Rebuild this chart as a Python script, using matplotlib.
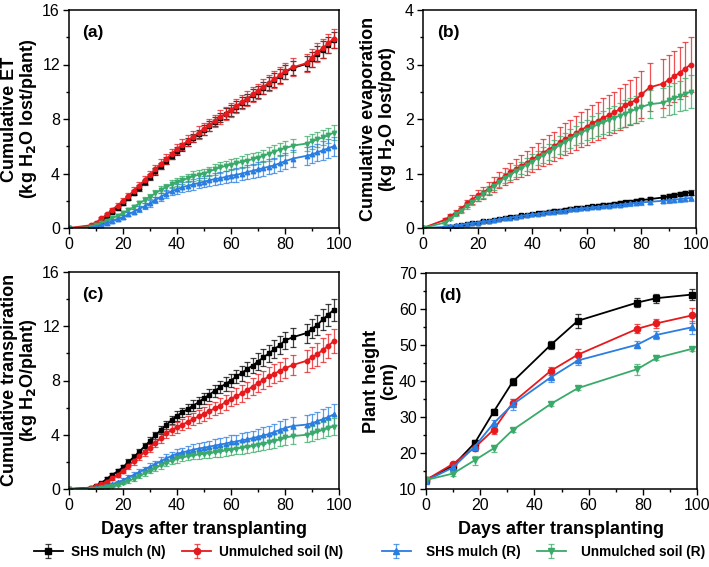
import matplotlib
matplotlib.use("Agg")
import matplotlib.pyplot as plt
from matplotlib.ticker import MultipleLocator, AutoMinorLocator

plt.rcParams['font.family'] = ['Liberation Sans', 'DejaVu Sans']

# sampling days for panels (a)-(c)
days = [0, 8, 10, 12, 14, 16, 18, 20, 22, 24, 26, 28, 30, 32, 34, 36, 38, 40, 42, 44,
        46, 48, 50, 52, 54, 56, 58, 60, 62, 64, 66, 68, 70, 72, 74, 76, 78, 80, 83, 88,
        90, 92, 94, 96, 98]

# (a) cumulative ET
et_shs_n = [0, 0.05, 0.2, 0.5, 0.85, 1.2, 1.5, 1.85, 2.2, 2.6, 2.95, 3.35, 3.75, 4.15, 4.55,
            4.95, 5.3, 5.65, 5.95, 6.3, 6.6, 6.9, 7.2, 7.5, 7.8, 8.1, 8.4, 8.65, 8.9, 9.2,
            9.45, 9.75, 10.0, 10.3, 10.6, 10.85, 11.15, 11.45, 11.75, 12.05, 12.4, 12.8,
            13.1, 13.45, 13.8]
et_shs_n_err = [0, 0.05, 0.05, 0.1, 0.1, 0.1, 0.15, 0.15, 0.15, 0.2, 0.2, 0.2, 0.2, 0.25,
                0.25, 0.25, 0.25, 0.3, 0.3, 0.3, 0.3, 0.3, 0.35, 0.35, 0.35, 0.35, 0.4, 0.4,
                0.4, 0.4, 0.4, 0.45, 0.45, 0.45, 0.45, 0.5, 0.5, 0.5, 0.5, 0.55, 0.55, 0.55,
                0.6, 0.6, 0.6]
et_uns_n = [0, 0.2, 0.4, 0.7, 1.0, 1.35, 1.65, 2.0, 2.35, 2.75, 3.1, 3.5, 3.9, 4.3, 4.7,
            5.05, 5.45, 5.8, 6.1, 6.4, 6.7, 7.0, 7.25, 7.55, 7.85, 8.15, 8.4, 8.65, 8.95,
            9.25, 9.5, 9.8, 10.05, 10.35, 10.65, 10.9, 11.2, 11.5, 11.8, 12.1, 12.5, 12.9,
            13.2, 13.55, 13.9]
et_uns_n_err = [0, 0.05, 0.05, 0.1, 0.1, 0.15, 0.15, 0.2, 0.2, 0.25, 0.25, 0.3, 0.3, 0.3,
                0.35, 0.35, 0.35, 0.4, 0.4, 0.4, 0.4, 0.45, 0.45, 0.45, 0.45, 0.5, 0.5, 0.5,
                0.5, 0.5, 0.55, 0.55, 0.55, 0.55, 0.6, 0.6, 0.6, 0.6, 0.65, 0.65, 0.65, 0.7,
                0.7, 0.7, 0.7]
et_shs_r = [0, 0.0, 0.1, 0.2, 0.35, 0.5, 0.65, 0.8, 1.0, 1.2, 1.4, 1.6, 1.8, 2.05, 2.3, 2.5,
            2.7, 2.85, 3.0, 3.1, 3.2, 3.3, 3.4, 3.5, 3.6, 3.65, 3.75, 3.85, 3.9, 4.0, 4.1,
            4.2, 4.3, 4.4, 4.5, 4.6, 4.75, 4.9, 5.1, 5.3, 5.4, 5.55, 5.7, 5.85, 6.0]
et_shs_r_err = [0, 0.02, 0.05, 0.05, 0.1, 0.1, 0.1, 0.15, 0.15, 0.2, 0.2, 0.2, 0.25, 0.25,
                0.3, 0.3, 0.3, 0.35, 0.35, 0.35, 0.4, 0.4, 0.4, 0.4, 0.45, 0.45, 0.45, 0.45,
                0.5, 0.5, 0.5, 0.5, 0.55, 0.55, 0.55, 0.55, 0.6, 0.6, 0.6, 0.65, 0.65, 0.65,
                0.7, 0.7, 0.7]
et_uns_r = [0, 0.05, 0.2, 0.35, 0.55, 0.75, 0.9, 1.1, 1.3, 1.55, 1.8, 2.05, 2.3, 2.55, 2.8,
            3.0, 3.2, 3.35, 3.5, 3.65, 3.8, 3.9, 4.0, 4.15, 4.3, 4.45, 4.55, 4.65, 4.75,
            4.85, 4.95, 5.05, 5.15, 5.3, 5.45, 5.6, 5.75, 5.85, 6.05, 6.2, 6.35, 6.5, 6.65,
            6.8, 7.0]
et_uns_r_err = [0, 0.02, 0.05, 0.05, 0.1, 0.1, 0.1, 0.15, 0.15, 0.15, 0.2, 0.2, 0.2, 0.25,
                0.25, 0.25, 0.3, 0.3, 0.3, 0.3, 0.35, 0.35, 0.35, 0.35, 0.4, 0.4, 0.4, 0.4,
                0.4, 0.45, 0.45, 0.45, 0.45, 0.45, 0.5, 0.5, 0.5, 0.5, 0.5, 0.55, 0.55, 0.55,
                0.55, 0.55, 0.55]

# (b) cumulative evaporation
ev_shs_n = [0, 0.0, 0.02, 0.03, 0.05, 0.07, 0.09, 0.1, 0.12, 0.13, 0.15, 0.17, 0.18, 0.2,
            0.21, 0.23, 0.24, 0.25, 0.27, 0.28, 0.3, 0.31, 0.32, 0.33, 0.35, 0.36, 0.37,
            0.38, 0.4, 0.41, 0.42, 0.43, 0.44, 0.46, 0.47, 0.48, 0.5, 0.51, 0.53, 0.56, 0.58,
            0.6, 0.62, 0.64, 0.65]
ev_shs_n_err = [0, 0.0, 0.01, 0.01, 0.01, 0.01, 0.01, 0.01, 0.02, 0.02, 0.02, 0.02, 0.02,
                0.02, 0.02, 0.02, 0.02, 0.02, 0.03, 0.03, 0.03, 0.03, 0.03, 0.03, 0.03, 0.03,
                0.03, 0.03, 0.03, 0.03, 0.03, 0.03, 0.03, 0.03, 0.03, 0.03, 0.04, 0.04, 0.04,
                0.04, 0.04, 0.04, 0.04, 0.04, 0.04]
ev_uns_n = [0, 0.15, 0.22, 0.28, 0.35, 0.45, 0.52, 0.6, 0.65, 0.72, 0.8, 0.88, 0.95, 1.02,
            1.08, 1.14, 1.2, 1.26, 1.32, 1.38, 1.44, 1.5, 1.57, 1.63, 1.68, 1.74, 1.8, 1.86,
            1.92, 1.97, 2.02, 2.07, 2.12, 2.18, 2.25, 2.3, 2.35, 2.45, 2.58, 2.65, 2.72,
            2.78, 2.85, 2.92, 3.0]
ev_uns_n_err = [0, 0.03, 0.04, 0.05, 0.06, 0.07, 0.08, 0.1, 0.11, 0.12, 0.14, 0.15, 0.16,
                0.18, 0.19, 0.2, 0.22, 0.23, 0.24, 0.25, 0.26, 0.27, 0.28, 0.29, 0.3, 0.31,
                0.32, 0.33, 0.34, 0.35, 0.36, 0.37, 0.38, 0.39, 0.4, 0.41, 0.42, 0.43, 0.44,
                0.45, 0.46, 0.47, 0.48, 0.49, 0.5]
ev_shs_r = [0, 0.02, 0.04, 0.05, 0.06, 0.08, 0.09, 0.1, 0.12, 0.13, 0.15, 0.16, 0.18, 0.19,
            0.21, 0.22, 0.24, 0.25, 0.26, 0.28, 0.29, 0.3, 0.31, 0.32, 0.34, 0.35, 0.36,
            0.37, 0.38, 0.39, 0.4, 0.41, 0.42, 0.43, 0.44, 0.45, 0.46, 0.47, 0.48, 0.5, 0.51,
            0.52, 0.53, 0.54, 0.55]
ev_shs_r_err = [0, 0.01, 0.01, 0.01, 0.01, 0.01, 0.01, 0.02, 0.02, 0.02, 0.02, 0.02, 0.02,
                0.02, 0.02, 0.02, 0.02, 0.03, 0.03, 0.03, 0.03, 0.03, 0.03, 0.03, 0.03, 0.03,
                0.03, 0.03, 0.03, 0.03, 0.03, 0.04, 0.04, 0.04, 0.04, 0.04, 0.04, 0.04, 0.04,
                0.05, 0.05, 0.05, 0.05, 0.05, 0.05]
ev_uns_r = [0, 0.1, 0.17, 0.25, 0.32, 0.4, 0.48, 0.55, 0.62, 0.7, 0.77, 0.85, 0.92, 0.98,
            1.04, 1.1, 1.16, 1.22, 1.28, 1.34, 1.4, 1.46, 1.52, 1.58, 1.64, 1.7, 1.75, 1.8,
            1.85, 1.9, 1.94, 1.98, 2.02, 2.06, 2.1, 2.14, 2.18, 2.22, 2.27, 2.3, 2.34, 2.38,
            2.42, 2.46, 2.5]
ev_uns_r_err = [0, 0.02, 0.03, 0.03, 0.04, 0.05, 0.05, 0.06, 0.07, 0.07, 0.08, 0.09, 0.09,
                0.1, 0.11, 0.11, 0.12, 0.13, 0.13, 0.14, 0.15, 0.15, 0.16, 0.17, 0.17, 0.18,
                0.19, 0.19, 0.2, 0.21, 0.21, 0.22, 0.22, 0.23, 0.24, 0.24, 0.25, 0.25, 0.26,
                0.27, 0.27, 0.28, 0.28, 0.29, 0.3]

# (c) cumulative transpiration
tr_shs_n = [0, 0.1, 0.25, 0.45, 0.75, 1.05, 1.3, 1.6, 2.0, 2.35, 2.75, 3.15, 3.55, 3.95,
            4.35, 4.7, 5.1, 5.4, 5.65, 5.9, 6.15, 6.4, 6.7, 6.95, 7.25, 7.5, 7.75, 8.0, 8.3,
            8.55, 8.85, 9.1, 9.4, 9.7, 10.0, 10.3, 10.6, 10.95, 11.2, 11.5, 11.8, 12.1, 12.5,
            12.85, 13.2]
tr_shs_n_err = [0, 0.05, 0.05, 0.1, 0.1, 0.1, 0.15, 0.15, 0.2, 0.2, 0.2, 0.25, 0.25, 0.25,
                0.3, 0.3, 0.3, 0.35, 0.35, 0.35, 0.4, 0.4, 0.4, 0.45, 0.45, 0.45, 0.5, 0.5,
                0.5, 0.55, 0.55, 0.55, 0.6, 0.6, 0.6, 0.65, 0.65, 0.65, 0.7, 0.7, 0.7, 0.75,
                0.75, 0.8, 0.8]
tr_uns_n = [0, 0.1, 0.2, 0.35, 0.55, 0.8, 1.05, 1.35, 1.7, 2.05, 2.4, 2.75, 3.05, 3.4, 3.75,
            4.1, 4.35, 4.55, 4.75, 4.95, 5.15, 5.35, 5.55, 5.75, 5.95, 6.15, 6.4, 6.65, 6.85,
            7.05, 7.3, 7.55, 7.8, 8.05, 8.3, 8.5, 8.7, 8.9, 9.15, 9.45, 9.7, 9.95, 10.25,
            10.55, 10.9]
tr_uns_n_err = [0, 0.05, 0.05, 0.1, 0.1, 0.15, 0.15, 0.2, 0.2, 0.25, 0.25, 0.3, 0.3, 0.3,
                0.35, 0.35, 0.4, 0.4, 0.4, 0.45, 0.45, 0.45, 0.5, 0.5, 0.5, 0.55, 0.55, 0.55,
                0.6, 0.6, 0.6, 0.65, 0.65, 0.65, 0.7, 0.7, 0.7, 0.75, 0.75, 0.8, 0.8, 0.85,
                0.85, 0.9, 0.9]
tr_shs_r = [0, 0.02, 0.08, 0.15, 0.25, 0.35, 0.5, 0.65, 0.85, 1.05, 1.25, 1.45, 1.65, 1.85,
            2.05, 2.25, 2.45, 2.6, 2.7, 2.8, 2.9, 2.98, 3.05, 3.12, 3.2, 3.28, 3.35, 3.45,
            3.5, 3.6, 3.65, 3.75, 3.85, 3.95, 4.05, 4.2, 4.35, 4.5, 4.65, 4.75, 4.85, 5.0,
            5.15, 5.3, 5.5]
tr_shs_r_err = [0, 0.02, 0.05, 0.05, 0.1, 0.1, 0.1, 0.15, 0.15, 0.2, 0.2, 0.2, 0.25, 0.25,
                0.3, 0.3, 0.3, 0.35, 0.35, 0.35, 0.4, 0.4, 0.4, 0.45, 0.45, 0.45, 0.5, 0.5,
                0.5, 0.5, 0.55, 0.55, 0.55, 0.6, 0.6, 0.6, 0.65, 0.65, 0.65, 0.7, 0.7, 0.7,
                0.75, 0.75, 0.8]
tr_uns_r = [0, 0.0, 0.03, 0.08, 0.15, 0.22, 0.32, 0.45, 0.6, 0.75, 0.95, 1.15, 1.35, 1.55,
            1.75, 1.95, 2.1, 2.25, 2.35, 2.42, 2.5, 2.55, 2.6, 2.65, 2.72, 2.78, 2.85, 2.9,
            2.97, 3.05, 3.12, 3.2, 3.28, 3.35, 3.45, 3.55, 3.65, 3.8, 3.9, 4.0, 4.1, 4.25,
            4.35, 4.5, 4.6]
tr_uns_r_err = [0, 0.02, 0.03, 0.05, 0.05, 0.1, 0.1, 0.1, 0.15, 0.15, 0.15, 0.2, 0.2, 0.2,
                0.25, 0.25, 0.25, 0.3, 0.3, 0.3, 0.3, 0.35, 0.35, 0.35, 0.35, 0.4, 0.4, 0.4,
                0.4, 0.45, 0.45, 0.45, 0.45, 0.5, 0.5, 0.5, 0.5, 0.55, 0.55, 0.55, 0.55, 0.6,
                0.6, 0.6, 0.6]

# (d) plant height
h_days = [0, 10, 18, 25, 32, 46, 56, 78, 85, 98]
h_shs_n = [12.5, 16.5, 22.8, 31.5, 39.8, 50.0, 56.7, 61.8, 63.0, 64.0]
h_shs_n_err = [0.4, 0.6, 0.8, 0.8, 0.9, 1.2, 2.0, 1.3, 1.3, 1.5]
h_uns_n = [12.5, 17.0, 21.5, 26.5, 34.0, 42.8, 47.3, 54.5, 56.0, 58.2]
h_uns_n_err = [0.4, 0.6, 1.0, 1.2, 1.0, 1.2, 1.5, 1.2, 1.3, 2.0]
h_shs_r = [12.3, 16.0, 21.8, 28.3, 33.5, 41.0, 45.7, 50.1, 52.8, 54.9]
h_shs_r_err = [0.4, 0.6, 0.8, 1.0, 1.5, 1.2, 1.2, 0.9, 1.2, 1.8]
h_uns_r = [12.5, 14.3, 18.0, 21.3, 26.4, 33.6, 38.0, 43.3, 46.4, 48.9]
h_uns_r_err = [0.4, 0.7, 1.3, 1.0, 0.5, 0.5, 0.6, 1.5, 0.7, 0.6]

labels = ['SHS mulch (N)', 'Unmulched soil (N)', 'SHS mulch (R)', 'Unmulched soil (R)']
colors = ['black', '#e8191c', '#2a7de1', '#3aaa6a']
markers = ['s', 'o', '^', 'v']

fig = plt.figure(figsize=(7.09, 5.67), dpi=100)
W, H = 709, 567


def add_ax(l, r, t, b):
    return fig.add_axes([l / W, 1 - b / H, (r - l) / W, (b - t) / H])


ax_a = add_ax(69, 339, 10, 228)
ax_b = add_ax(423, 696, 10, 228)
ax_c = add_ax(69, 339, 272, 489)
ax_d = add_ax(426, 697, 273, 489)

# axis, x, series, errors, y-limits, y-step, y-label, tag, label centre (px)
panels = [
    (ax_a, days, [et_shs_n, et_uns_n, et_shs_r, et_uns_r],
     [et_shs_n_err, et_uns_n_err, et_shs_r_err, et_uns_r_err],
     (0, 16), 4, 'Cumulative ET\n(kg H$_\\mathbf{2}$O lost/plant)', '(a)', (20, 119)),
    (ax_b, days, [ev_shs_n, ev_uns_n, ev_shs_r, ev_uns_r],
     [ev_shs_n_err, ev_uns_n_err, ev_shs_r_err, ev_uns_r_err],
     (0, 4), 1, 'Cumulative evaporation\n(kg H$_\\mathbf{2}$O lost/pot)', '(b)', (379, 119)),
    (ax_c, days, [tr_shs_n, tr_uns_n, tr_shs_r, tr_uns_r],
     [tr_shs_n_err, tr_uns_n_err, tr_shs_r_err, tr_uns_r_err],
     (0, 16), 4, 'Cumulative transpiration\n(kg H$_\\mathbf{2}$O/plant)', '(c)', (20, 380)),
    (ax_d, h_days, [h_shs_n, h_uns_n, h_shs_r, h_uns_r],
     [h_shs_n_err, h_uns_n_err, h_shs_r_err, h_uns_r_err],
     (10, 70), 10, 'Plant height\n(cm)', '(d)', (380, 381)),
]

handles = []
for ax, x, ys, es, ylim, ystep, ylabel, tag, lpos in panels:
    if ax is ax_a:
        order = [0, 1, 3, 2]
    elif ax is ax_b:
        order = [0, 2, 1, 3]
    else:
        order = [0, 1, 2, 3]
    ms = 4.5 if ax is ax_d else 3.2
    hs = {}
    for i in order:
        h = ax.errorbar(x, ys[i], yerr=es[i], color=colors[i], marker=markers[i],
                        ms=ms, lw=1.3, elinewidth=0.9, capsize=2.2, capthick=0.9,
                        ecolor=colors[i], label=labels[i])
        for bar in h[2]:
            bar.set_alpha(0.75)
        for cap in h[1]:
            cap.set_alpha(0.75)
        hs[i] = h
    if ax is ax_d:
        handles = [hs[i] for i in range(4)]
    ax.set_xlim(0, 100)
    ax.set_ylim(*ylim)
    ax.xaxis.set_major_locator(MultipleLocator(20))
    ax.xaxis.set_minor_locator(AutoMinorLocator(2))
    ax.yaxis.set_major_locator(MultipleLocator(ystep))
    ax.yaxis.set_minor_locator(AutoMinorLocator(2))
    ax.tick_params(which='major', direction='out', length=4, width=1, labelsize=11.5,
                   pad=2.5)
    ax.tick_params(which='minor', direction='out', length=2.5, width=1)
    for s in ax.spines.values():
        s.set_linewidth(1.1)
    fig.text(lpos[0] / W, 1 - lpos[1] / H, ylabel, rotation=90, ha='center', va='center',
             multialignment='center', fontsize=13, fontweight='bold', linespacing=1.0)
    ax.text(0.05, 0.93, tag, transform=ax.transAxes, fontsize=12.5, fontweight='bold',
            va='top', ha='left')

for ax in (ax_c, ax_d):
    ax.set_xlabel('Days after transplanting', fontsize=13, fontweight='bold', labelpad=6)

leg_kw = dict(ncol=2, frameon=False, prop={'weight': 'bold', 'size': 9.8},
              handlelength=2.1, columnspacing=1.25, borderpad=0, borderaxespad=0,
              loc='center left')
fig.legend(handles[:2], labels[:2], bbox_to_anchor=(34 / W, 1 - 552 / H),
           handletextpad=0.6, **leg_kw)
fig.legend(handles[2:], labels[2:], bbox_to_anchor=(382 / W, 1 - 552 / H),
           handletextpad=1.1, **leg_kw)

fig.savefig('out.png', dpi=100)
